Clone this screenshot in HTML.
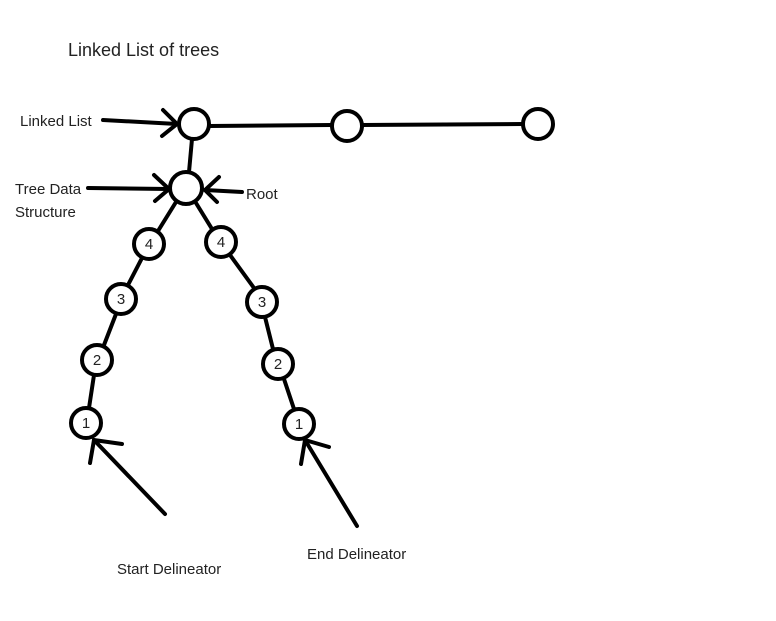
<!DOCTYPE html>
<html><head><style>
body{margin:0;background:#fff;width:776px;height:616px;overflow:hidden}
svg text{font-family:"Liberation Sans",sans-serif;fill:#222}
</style></head><body>
<svg width="776" height="616" viewBox="0 0 776 616" xmlns="http://www.w3.org/2000/svg">
<g stroke="#000" stroke-width="4" fill="none" stroke-linecap="round">
<line x1="209" y1="126" x2="332" y2="125"/>
<line x1="362" y1="125" x2="523" y2="124"/>
<line x1="192" y1="139" x2="189" y2="172"/>
<line x1="176" y1="202" x2="158" y2="231"/>
<line x1="196" y1="203" x2="212" y2="229"/>
<line x1="142" y1="258" x2="128" y2="285"/>
<line x1="230" y1="255" x2="254" y2="288"/>
<line x1="116" y1="314" x2="104" y2="345"/>
<line x1="265" y1="317" x2="273" y2="349"/>
<line x1="94" y1="375" x2="89" y2="408"/>
<line x1="284" y1="379" x2="294" y2="409"/>
<line x1="103" y1="120" x2="177" y2="124"/>
<polyline points="163,110 177,124 162,136"/>
<line x1="88" y1="188" x2="169" y2="189"/>
<polyline points="154,175 169,189 155,201"/>
<line x1="242" y1="192" x2="205" y2="190"/>
<polyline points="219,177 205,190 217,202"/>
<line x1="165" y1="514" x2="94" y2="440"/>
<polyline points="90,463 94,440 122,444"/>
<line x1="357" y1="526" x2="305" y2="440"/>
<polyline points="301,464 305,440 329,447"/>
</g>
<g stroke="#000" stroke-width="4" fill="#fff">
<circle cx="194" cy="124" r="15"/>
<circle cx="347" cy="126" r="15"/>
<circle cx="538" cy="124" r="15"/>
<circle cx="186" cy="188" r="16"/>
<circle cx="149" cy="244" r="15"/>
<circle cx="221" cy="242" r="15"/>
<circle cx="121" cy="299" r="15"/>
<circle cx="262" cy="302" r="15"/>
<circle cx="97" cy="360" r="15"/>
<circle cx="278" cy="364" r="15"/>
<circle cx="86" cy="423" r="15"/>
<circle cx="299" cy="424" r="15"/>
</g>
<g font-size="15" text-anchor="middle">
<text x="149" y="249">4</text>
<text x="221" y="247">4</text>
<text x="121" y="304">3</text>
<text x="262" y="307">3</text>
<text x="97" y="365">2</text>
<text x="278" y="369">2</text>
<text x="86" y="428">1</text>
<text x="299" y="429">1</text>
</g>
<g font-size="15">
<text x="68" y="56" font-size="18">Linked List of trees</text>
<text x="20" y="126">Linked List</text>
<text x="15" y="194">Tree Data</text>
<text x="15" y="217">Structure</text>
<text x="246" y="199">Root</text>
<text x="117" y="574">Start Delineator</text>
<text x="307" y="559">End Delineator</text>
</g>
</svg>
</body></html>
